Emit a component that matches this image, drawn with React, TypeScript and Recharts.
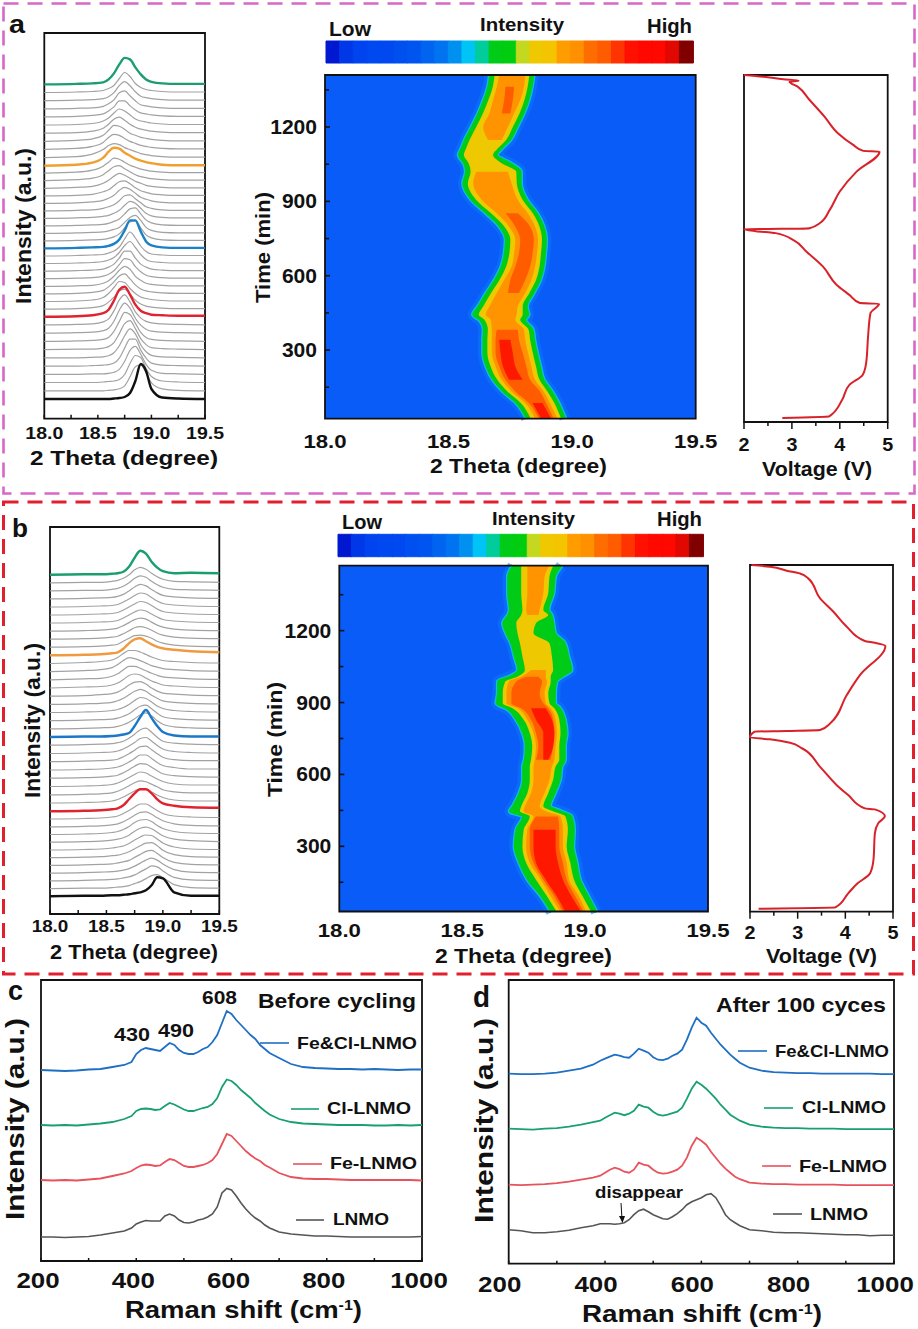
import React from 'react'
import { Area, Bar, BarChart, Cell, CartesianGrid, ComposedChart, Line, LineChart, ReferenceArea, XAxis, YAxis } from 'recharts'

const FONT = '"Liberation Sans", Arial, sans-serif'
const PAGE_W = 918
const PAGE_H = 1329

// --- waterfall panels: peak height over each trace's own baseline
const thetaGrid = [18.0, 18.3, 18.45, 18.55, 18.6, 18.65, 18.7, 18.75, 18.8, 18.85, 18.9, 18.95, 19.0, 19.1, 19.25, 19.5]
const thetaTicks = [18, 18.25, 18.5, 18.75, 19, 19.25, 19.5]
const thetaLabels = [18, 18.5, 19, 19.5]

const baselinesA = [19.7, 27.9, 36.2, 44.4, 52.6, 60.9, 69.1, 77.3, 85.5, 93.8, 102, 109.6, 117.2, 124.8, 132.4, 140, 147.6, 155.2, 162.7, 170.3, 177.8, 185.3, 192.8, 200.4, 207.9, 215.4, 222.9, 230.4, 238, 245.5, 253, 261.1, 269.3, 277.4, 285.5, 293.7, 301.8, 309.9, 318, 326.2, 334.3]
const tracesA = [
  [0, 0, 0, 0, 0, .5, 1, 2, 6, 18, 35, 28, 10, 1.5, .5, 0],
  [0, 0, 0, 0, .5, 1, 2, 5, 14, 24, 26, 18, 8, 2, .5, 0],
  [0, 0, 0, .5, 1, 1.5, 3, 8, 19, 27, 25, 14, 6, 1.5, .5, 0],
  [0, 0, .5, .5, 1, 2, 5, 13, 24, 28, 20, 10, 4, 1, .5, 0],
  [0, 0, .5, 1, 1.5, 3, 8, 18, 27, 27, 16, 8, 3, 1, .5, 0],
  [0, 0, .5, 1, 2, 5, 12, 22, 29, 24, 13, 6, 2.5, 1, .5, 0],
  [0, .5, .5, 1.5, 3, 7, 16, 26, 29, 21, 11, 5, 2, 1, .5, 0],
  [0, .5, 1, 2, 4, 10, 20, 29, 27, 18, 9, 4, 2, 1, .5, 0],
  [0, .5, 1, 2.5, 5, 12, 23, 30, 25, 15, 8, 4, 2, 1, .5, 0],
  [0, .5, 1, 3, 6, 14, 25, 30, 23, 13, 7, 3.5, 2, 1, .5, 0],
  [0, .5, 1.5, 3.5, 7, 16, 27, 30, 22, 12, 6, 3.5, 2, 1.5, 1, 1],
  [0, .5, 1.5, 3.5, 7, 12, 18, 20, 15, 9, 5, 3, 2, 1, .5, .5],
  [0, .5, 1.5, 4, 8, 14, 20, 19, 13, 8, 4.5, 3, 2, 1, .5, .5],
  [0, .5, 1.5, 3.5, 7, 12, 18, 20, 15, 9, 5, 3, 2, 1, .5, .5],
  [0, .5, 1, 3, 5.5, 10, 16, 20, 17, 10, 6, 3, 2, 1, .5, .5],
  [0, .5, 1, 2.5, 4.5, 8, 14, 20, 19, 12, 7, 3.5, 2, 1, .5, .5],
  [0, .5, 1, 2, 4, 7, 13, 20, 20, 13, 7, 4, 2, 1, .5, .5],
  [0, .5, 1, 2, 3.5, 6, 11, 18, 22, 16, 9, 4, 2, 1, .5, .5],
  [0, .5, 1, 1.5, 3, 5, 9, 17, 24, 18, 10, 4.5, 2, 1, .5, .5],
  [0, .5, 1, 1.5, 2.5, 4.5, 9, 18, 28, 28, 17, 7, 3, 1, .5, .5],
  [0, .5, 1, 1.5, 2.5, 4, 7, 13, 19, 20, 13, 6, 3, 1, .5, .5],
  [0, .5, 1, 1.5, 2.5, 4, 6, 11, 16, 18, 13, 6, 3, 1, .5, .5],
  [0, .5, 1, 1.5, 2.5, 4.5, 7, 12, 17, 18, 12, 6, 3, 1, .5, .5],
  [0, .5, 1, 2, 3, 5, 8, 13, 17, 15, 10, 5, 2.5, 1, .5, .5],
  [0, .5, 1, 2.5, 4, 6, 10, 15, 16, 12, 8, 4, 2.5, 1, .5, .5],
  [0, .5, 1.5, 3, 5, 8, 13, 16, 14, 10, 6, 4, 2.5, 1, .5, .5],
  [0, .5, 1.5, 4, 6, 10, 14, 15, 12, 8, 5, 3.5, 2, 1, .5, .5],
  [0, 1, 2, 5, 8, 12, 15, 13, 10, 7, 5, 3, 2, 1, .5, .5],
  [0, 1, 2.5, 6, 10, 14, 15, 12, 9, 6, 4, 3, 2, 1, .5, .5],
  [0, 1, 3, 7, 11, 15, 14, 11, 8, 6, 4, 3, 2, 1, .5, .5],
  [0, 1, 3, 8, 14, 18, 17, 13, 10, 7, 5, 3.5, 2.5, 1, .5, .5],
  [0, 1, 3.5, 8, 12, 14, 13, 10, 8, 6, 4, 3, 2, 1, .5, .5],
  [0, 1, 3, 7, 12, 15, 14, 11, 8, 6, 4, 3, 2, 1, .5, .5],
  [0, 1, 2.5, 6, 11, 16, 15, 12, 8, 6, 4, 3, 2, 1, .5, .5],
  [0, .5, 2, 5, 9, 14, 16, 13, 9, 6, 4, 3, 2, 1, .5, .5],
  [0, .5, 1.5, 4, 7, 12, 16, 14, 10, 6, 4, 3, 2, 1, .5, .5],
  [0, .5, 1.5, 3, 6, 10, 16, 16, 11, 7, 4, 3, 2, 1, .5, .5],
  [0, .5, 1, 2.5, 5, 9, 16, 18, 13, 8, 4, 3, 2, 1, .5, .5],
  [0, .5, 1, 2, 4, 8, 15, 19, 15, 9, 4.5, 3, 2, 1, .5, .5],
  [0, .5, 1, 2, 4, 7, 14, 20, 16, 9, 5, 3, 2, 1, .5, .5],
  [0, .5, 1, 2, 5, 11, 20, 26.5, 25, 17, 10, 5, 2.5, 1, .5, .5],
]
const highlightA = { 0: '#111111', 10: '#e0242f', 19: '#1b80c4', 30: '#f0a030', 40: '#1a9e6e' }

const baselinesB = [17.7, 25.4, 33.1, 40.9, 48.6, 56.3, 64, 71.8, 79.5, 87.2, 95, 102.7, 111, 119.2, 127.5, 135.8, 144, 152.3, 160.5, 168.8, 177, 185.2, 193.3, 201.5, 209.7, 217.9, 226, 234.2, 242.4, 250.5, 258.7, 266.8, 274.8, 282.9, 291, 299, 307, 315.1, 323.2, 331.2, 339.3]
const tracesB = [
  [0, .5, .5, 1, 1, 1.5, 2, 3, 4, 6, 11, 19, 18, 4, .5, .5],
  [0, .5, .5, 1, 1.5, 2, 3, 5, 7, 10, 13, 14, 11, 4, 1, .5],
  [0, .5, 1, 1.5, 2, 3, 4, 6, 9, 12, 15, 14, 10, 3.5, 1, .5],
  [0, .5, 1, 1.5, 2, 3, 4.5, 7, 10, 13, 15, 13, 9, 3.5, 1, .5],
  [0, .5, 1, 1.5, 2.5, 3.5, 5, 8, 11, 14, 15, 12, 8, 3, 1, .5],
  [0, .5, 1, 2, 2.5, 4, 6, 9, 12, 14.5, 15, 12, 7.5, 3, 1, .5],
  [0, .5, 1, 2, 3, 4, 6.5, 10, 13, 15, 14.5, 11, 7, 3, 1, .5],
  [0, .5, 1, 2, 3, 4.5, 7, 11, 14, 15, 13.5, 10, 6.5, 3, 1.5, .5],
  [0, .5, 1, 2, 3, 5, 8, 12, 14.5, 15, 13, 9, 6, 3, 1.5, 1],
  [0, .5, 1, 2, 3, 5, 8, 11.5, 14.5, 15, 12.5, 9, 6, 3, 1.5, 1],
  [0, .5, 1, 2, 3, 5.5, 8.5, 12, 15, 15, 12, 8.5, 5.5, 3, 2, 1.5],
  [0, .5, 1, 2, 3, 6, 12, 18, 22, 22, 18, 12, 8, 5.5, 4, 3.5],
  [0, .5, 1, 2, 3.5, 6, 9, 12, 14, 13.5, 11, 8, 5.5, 3, 2, 2],
  [0, .5, 1, 2, 3.5, 6, 9, 12, 14, 13, 10.5, 8, 5, 3, 2, 2],
  [0, .5, 1, 2, 3.5, 6, 9, 12, 14.5, 13.5, 10.5, 7.5, 5, 2.5, 1.5, 1.5],
  [0, .5, 1, 2, 3, 5.5, 8.5, 12, 14.5, 14, 11, 7.5, 4.5, 2.5, 1.5, 1],
  [0, .5, 1, 2, 3, 5, 8, 11.5, 15, 15, 11.5, 7.5, 4.5, 2.5, 1, 1],
  [0, .5, 1, 1.5, 2.5, 5, 8, 11.5, 15, 15.5, 12, 8, 4.5, 2, 1, 1],
  [0, .5, 1, 1.5, 2.5, 4.5, 7.5, 11, 15, 16, 12.5, 8, 4.5, 2, 1, .5],
  [0, .5, 1, 1.5, 2.5, 4, 7, 11, 15.5, 17, 13, 8, 4, 2, 1, .5],
  [0, .5, .5, 1, 1.5, 2.5, 4, 11, 20, 27, 19, 11, 5, 1.5, .5, .5],
  [0, .5, 1, 1.5, 2.5, 4, 6.5, 10, 14, 16, 13, 8, 4.5, 2, 1, .5],
  [0, .5, 1, 1.5, 2.5, 4.5, 7, 11, 14.5, 15.5, 12, 7.5, 4, 2, 1, .5],
  [0, .5, 1, 2, 3, 5, 8, 12, 15, 14, 10.5, 6.5, 4, 2, 1, .5],
  [0, .5, 1, 2, 3.5, 6, 9.5, 13, 15, 13, 9, 6, 3.5, 2, 1, .5],
  [0, .5, 1.5, 2.5, 4, 7, 11, 14, 14.5, 12, 8, 5, 3, 2, 1, .5],
  [0, 1, 1.5, 3, 5, 8.5, 12.5, 14, 13, 10, 7, 5, 3, 2, 1, .5],
  [0, 1, 1.5, 3.5, 6, 10, 13.5, 13.5, 11.5, 9, 6.5, 4.5, 3, 2, 1, .5],
  [0, 1, 2, 4, 7, 11, 14, 13, 11, 8.5, 6, 4.5, 3, 2, 1, .5],
  [0, 1, 2, 3.5, 6, 10, 13, 13, 11.5, 9, 6.5, 4.5, 3, 2, 1, .5],
  [0, .5, 1, 2, 3, 6.5, 12, 16, 17, 14, 11, 8.5, 7, 5.5, 4, 3],
  [0, .5, 1, 2, 3, 6, 9, 11.5, 12, 11, 9, 6, 4, 2, 1, .5],
  [0, .5, 1, 2, 3, 5.5, 8.5, 11.5, 12.5, 11.5, 9, 6, 4, 2, 1, .5],
  [0, .5, 1, 2, 3, 5.5, 8.5, 11.5, 13, 12, 9, 6, 4, 2, 1, .5],
  [0, .5, 1, 1.5, 2.5, 5, 8, 11, 13, 12, 9, 6, 3.5, 2, 1, .5],
  [0, .5, 1, 1.5, 2.5, 5, 8, 11, 13.5, 12.5, 9.5, 6, 3.5, 2, 1, .5],
  [0, .5, 1, 1.5, 2.5, 5, 8, 11.5, 14, 13, 9.5, 6, 3.5, 2, 1, .5],
  [0, .5, 1, 1.5, 2.5, 4.5, 8, 12, 14.5, 13, 9.5, 6, 3.5, 2, 1, .5],
  [0, .5, .5, 1.5, 2.5, 4.5, 8, 12.5, 15, 13.5, 9.5, 6, 3.5, 1.5, 1, .5],
  [0, .5, .5, 1.5, 2.5, 4.5, 8, 13, 15.5, 13.5, 9.5, 6, 3.5, 1.5, 1, .5],
  [0, .5, .5, 1, 1.5, 3, 8, 17, 24, 21, 13, 7, 3.5, 1.5, 2, 1.5],
]
const highlightB = { 0: '#111111', 11: '#e0242f', 20: '#1b78c8', 30: '#f09a40', 40: '#1a9e6e' }

// --- contour maps: [low, high] 2 theta edge of each colour level at each time
const timeTicks = [150, 300, 450, 600, 750, 900, 1050, 1200, 1350]
const timeLabels = [300, 600, 900, 1200]
const barColors = ['#0018d0', '#0038e8', '#0044f0', '#0048f0', '#0048f0', '#0050f0', '#0054f0', '#0064f0', '#0074f0', '#0090f0', '#00c4f5', '#00cc9c', '#00cc18', '#00cc10', '#c4d820', '#f0c800', '#f4c400', '#ff9c00', '#ff9000', '#ff6c00', '#ff5c00', '#ff3400', '#ff1000', '#ff0800', '#ff0800', '#e00800', '#800000']

const mapTimesA = [24, 86, 133, 180, 234, 288, 342, 382, 422, 442, 476, 530, 583, 637, 691, 745, 798, 852, 906, 973, 1020, 1054, 1087, 1114, 1148, 1200, 1255, 1309, 1363, 1410]
const greenA = [[18.816, 18.971], [18.776, 18.944], [18.722, 18.917], [18.681, 18.884], [18.654, 18.87], [18.641, 18.857], [18.641, 18.846], [18.643, 18.84], [18.627, 18.809], [18.6, 18.823], [18.621, 18.816], [18.654, 18.843], [18.688, 18.87], [18.715, 18.884], [18.728, 18.89], [18.732, 18.894], [18.708, 18.884], [18.654, 18.857], [18.594, 18.816], [18.56, 18.792], [18.571, 18.792], [18.563, 18.749], [18.542, 18.695], [18.553, 18.715], [18.567, 18.749], [18.594, 18.776], [18.621, 18.803], [18.643, 18.823], [18.661, 18.836], [18.668, 18.843]]
const yellowA = [[18.832, 18.955], [18.792, 18.928], [18.738, 18.9], [18.697, 18.868], [18.67, 18.854], [18.657, 18.841], [18.657, 18.83], [18.659, 18.824], [18.645, 18.79], [18.622, 18.8], [18.64, 18.8], [18.672, 18.827], [18.706, 18.854], [18.733, 18.868], [18.746, 18.874], [18.75, 18.878], [18.726, 18.868], [18.672, 18.841], [18.612, 18.8], [18.578, 18.776], [18.589, 18.774], [18.581, 18.715], [18.562, 18.68], [18.571, 18.7], [18.585, 18.733], [18.612, 18.76], [18.639, 18.787], [18.661, 18.807], [18.679, 18.82], [18.686, 18.827]]
const orangeA = [[18.85, 18.94], [18.81, 18.91], [18.755, 18.885], [18.715, 18.85], [18.69, 18.835], [18.675, 18.822], [18.675, 18.81], [18.675, 18.805], [18.67, 18.77], [18.65, 18.775], [18.665, 18.78], [18.695, 18.81], [18.725, 18.835], [18.755, 18.85], [18.765, 18.858], [18.77, 18.862], [18.745, 18.85], [18.695, 18.82], [18.635, 18.78], [18.6, 18.755], [18.612, 18.74], null, null, null, [18.66, 18.715], [18.64, 18.74], [18.665, 18.765], [18.68, 18.79], [18.695, 18.805], [18.705, 18.81]]
const deepA = [[18.865, 18.925], [18.825, 18.895], [18.77, 18.87], [18.73, 18.83], [18.705, 18.815], [18.69, 18.8], [18.69, 18.785], [18.695, 18.78], null, null, null, [18.74, 18.785], [18.75, 18.81], [18.77, 18.83], [18.785, 18.84], [18.79, 18.845], [18.77, 18.83], [18.73, 18.78], null, null, null, null, null, null, null, null, [18.715, 18.75], [18.725, 18.76], [18.73, 18.765], null]
const redA = [[18.875, 18.915], [18.84, 18.88], null, [18.745, 18.8], [18.72, 18.77], [18.71, 18.76], [18.705, 18.75], null, null, null, null, null, null, null, null, null, null, null, null, null, null, null, null, null, null, null, null, null, null, null]

const mapTimesB = [26, 92, 161, 231, 300, 369, 425, 446, 467, 522, 578, 633, 661, 717, 772, 828, 876, 897, 939, 988, 1008, 1036, 1092, 1147, 1189, 1231, 1265, 1286, 1356, 1425, 1471]
const greenB = [[18.863, 19.046], [18.822, 19.012], [18.768, 18.978], [18.734, 18.965], [18.714, 18.951], [18.721, 18.954], [18.748, 18.944], [18.694, 18.9], [18.707, 18.856], [18.734, 18.876], [18.748, 18.897], [18.748, 18.904], [18.755, 18.917], [18.759, 18.917], [18.748, 18.924], [18.721, 18.917], [18.68, 18.897], [18.64, 18.877], [18.646, 18.877], [18.646, 18.883], [18.694, 18.904], [18.728, 18.944], [18.714, 18.931], [18.7, 18.917], [18.68, 18.877], [18.667, 18.87], [18.687, 18.863], [18.694, 18.85], [18.687, 18.87], [18.687, 18.877], [18.707, 18.904]]
const yellowB = [[18.885, 19.025], [18.845, 18.99], [18.8, 18.955], [18.76, 18.94], [18.745, 18.925], [18.75, 18.93], [18.775, 18.92], [18.735, 18.87], [18.74, 18.83], [18.765, 18.85], [18.775, 18.87], [18.775, 18.88], [18.78, 18.895], [18.785, 18.895], [18.775, 18.9], [18.75, 18.895], [18.705, 18.875], [18.665, 18.855], [18.665, 18.85], [18.675, 18.86], [18.725, 18.86], [18.755, 18.87], [18.745, 18.865], [18.735, 18.855], [18.725, 18.79], [18.72, 18.8], [18.74, 18.85], [18.745, 18.83], [18.74, 18.85], [18.74, 18.855], [18.74, 18.87]]
const orangeB = [[18.9, 19.005], [18.86, 18.975], [18.82, 18.935], [18.775, 18.925], [18.76, 18.91], [18.765, 18.91], [18.79, 18.9], [18.75, 18.84], [18.755, 18.815], [18.78, 18.835], [18.79, 18.855], [18.79, 18.865], [18.795, 18.875], [18.8, 18.88], [18.79, 18.885], [18.765, 18.88], [18.725, 18.86], [18.68, 18.84], [18.68, 18.835], [18.69, 18.845], [18.74, 18.84], [18.78, 18.84], null, null, null, null, [18.765, 18.81], [18.76, 18.815], [18.765, 18.83], [18.765, 18.835], [18.765, 18.855]]
const deepB = [[18.91, 18.995], [18.875, 18.96], [18.83, 18.925], [18.79, 18.91], [18.775, 18.895], [18.775, 18.895], [18.8, 18.89], null, null, null, null, null, [18.8, 18.86], [18.81, 18.87], [18.8, 18.875], [18.78, 18.87], [18.74, 18.85], [18.7, 18.83], [18.7, 18.815], [18.72, 18.825], [18.76, 18.81], null, null, null, null, null, null, null, null, null, null]
const redB = [[18.92, 18.985], [18.885, 18.945], [18.84, 18.91], [18.8, 18.89], [18.79, 18.88], [18.79, 18.88], null, null, null, null, null, null, [18.83, 18.85], [18.83, 18.87], [18.83, 18.875], [18.8, 18.865], [18.78, 18.84], null, null, null, null, null, null, null, null, null, null, null, null, null, null]

// --- voltage profiles
const voltTicks = [2, 2.5, 3, 3.5, 4, 4.5, 5]
const voltLabels = [2, 3, 4, 5]
const voltTimesA = [16, 23, 90, 150, 191, 238, 345, 439, 477, 480, 513, 554, 627, 688, 732, 762, 770, 778, 779, 780, 782, 802, 856, 930, 1010, 1091, 1094, 1118, 1165, 1232, 1299, 1353, 1373, 1377, 1383, 1393, 1400]
const voltsA = [2.8, 3.78, 4.05, 4.2, 4.48, 4.55, 4.59, 4.64, 4.82, 4.42, 4.2, 3.93, 3.65, 3.3, 3.05, 2.66, 2.25, 2.0, 2.5, 3.15, 3.37, 3.58, 3.79, 4.0, 4.35, 4.83, 4.49, 4.28, 3.96, 3.68, 3.37, 3.12, 2.95, 3.14, 2.82, 2.4, 2.0]
const voltTimesB = [12, 17, 74, 112, 155, 209, 316, 357, 386, 413, 417, 471, 511, 585, 660, 682, 696, 704, 727, 730, 734, 760, 875, 956, 1073, 1086, 1093, 1151, 1211, 1265, 1346, 1366, 1377, 1393, 1400]
const voltsB = [2.18, 3.79, 4.06, 4.24, 4.52, 4.59, 4.62, 4.69, 4.83, 4.62, 4.41, 4.06, 3.82, 3.47, 3.09, 2.84, 2.42, 2.0, 2.1, 2.77, 3.47, 3.68, 4.03, 4.31, 4.84, 4.62, 4.41, 4.03, 3.75, 3.47, 3.22, 3.05, 2.77, 2.42, 2.03]

// --- Raman spectra
const ramanShift = [200, 225, 250, 275, 300, 325, 350, 375, 390, 400, 410, 420, 430, 440, 450, 460, 470, 480, 490, 500, 510, 520, 530, 540, 550, 560, 570, 580, 590, 600, 610, 620, 630, 640, 650, 660, 670, 680, 700, 725, 750, 775, 800, 825, 850, 875, 900, 925, 950, 975, 1000]
const ramanTicks = [200, 300, 400, 500, 600, 700, 800, 900, 1000]
const ramanLabels = [200, 400, 600, 800, 1000]
const beforeFeCl = [191, 190.5, 190, 190.5, 191.5, 192, 194, 196, 199, 207, 211, 213, 212, 211, 210, 214, 218, 216, 211, 208, 207, 207, 209, 212, 214, 219, 226, 238, 250, 247, 241, 236, 231, 226, 222, 216, 212, 208, 203, 197, 194, 193, 192.5, 192, 192, 191.5, 192, 191.5, 191, 191.5, 191.5]
const beforeCl = [136, 135.5, 136, 135.5, 136.5, 137.5, 139, 142, 145, 150, 152, 152.5, 152, 151, 151.5, 155, 158, 156.5, 154, 151.5, 150, 150, 151.5, 153, 154, 157, 163, 174, 181.5, 180, 176, 171, 167, 163, 158, 154, 150, 146.5, 142, 139, 137.5, 137, 136.5, 136, 136, 136, 135.5, 135.5, 136, 135.5, 136]
const beforeFe = [81, 80.5, 81, 80.5, 81.5, 82.5, 85, 87.5, 90, 93, 95.5, 96.5, 96, 95, 95.5, 99, 102, 101, 98, 95, 94, 94, 95, 96, 98, 101, 107, 117, 127, 125, 120, 115, 110, 106, 102.5, 100, 96, 93.5, 88, 84, 82.5, 82, 82, 81.5, 81, 81, 81, 81, 81, 81, 80.5]
const beforeBare = [24, 24, 23.5, 24, 24.5, 26, 28, 30, 33, 37, 39, 40.5, 40, 40, 40, 45, 47, 45, 41, 38.5, 38, 39, 41, 42, 44, 47, 54, 68, 72.5, 71, 65, 58, 52, 47, 43, 40, 36, 33, 29, 27, 26, 25, 25, 24.5, 24, 24, 24, 24, 24, 24, 24.5]
const afterFeCl = [190, 189.5, 189.5, 190, 191, 193, 195, 199, 203, 205, 207, 209, 208, 206.5, 206, 210, 215, 213, 211, 206.5, 204, 203.5, 205, 208, 210, 214, 224, 236, 246, 241, 238, 231, 225, 219, 214, 209, 205, 201, 196, 193, 191.5, 191, 190.5, 190.5, 190, 190, 190, 190, 190, 189.5, 189.5]
const afterCl = [135, 134.5, 134, 135, 135.5, 137, 139, 141.5, 143, 146, 148.5, 151, 150, 148.5, 150, 153, 159, 157, 156, 152, 149, 148, 149, 150.5, 152, 156, 165, 175, 182, 179, 175, 170, 165, 159, 154, 149, 146, 143, 139, 137, 136, 135.5, 135.5, 135, 135, 135, 134.5, 134.5, 134.5, 134.5, 134.5]
const afterFe = [79, 78.5, 79, 79.5, 80.5, 82, 84, 86, 88, 91, 94, 96, 94.5, 92, 91, 94, 101, 99, 98, 94, 91, 90, 90.5, 92, 94, 98, 106, 118, 126, 123, 119, 112, 106, 100, 95, 91, 87, 84.5, 81, 80, 79.5, 79.5, 79, 79, 79, 79, 78.5, 78.5, 78.5, 78.5, 78.5]
const afterBare = [34, 33, 31, 31, 32, 33.5, 36, 38, 40, 40, 40, 39.5, 40, 41, 44, 49, 53, 54.5, 52, 49, 47, 45, 44.5, 47, 50, 54, 59, 62, 64, 66, 69, 70, 66, 58, 49, 44, 41, 38, 34, 33, 31.5, 31, 31, 30.5, 30, 29.5, 29, 29, 28, 28.5, 28.5]

const ramanBlue = '#1f6fc4'
const ramanGreen = '#18a070'
const ramanRed = '#e8525c'
const ramanGray = '#555555'

// axes keep 1px of height/width (0 makes them skip their ticks), so margins give that back
const plotMargin = (left: number, top: number, right: number, bottom: number, yAxisShown = false) => ({
  left: yAxisShown ? left - 1 : left,
  top,
  right: PAGE_W - right,
  bottom: PAGE_H - bottom - 1,
})

const xTick = (labels: number[], fmt: (v: number) => string, o: any) => (p: any) => {
  const big = labels.includes(p.payload.value)
  const len = big ? o.major : o.minor
  return (
    <g>
      {len !== 0 && <line x1={p.x} x2={p.x} y1={p.y} y2={p.y + len} stroke="#111" strokeWidth={1.5} />}
      {big && (
        <text
          transform={`translate(${p.x + (o.dx || 0)} ${p.y + o.dy}) scale(${o.sx} 1)`}
          textAnchor="middle"
          fontFamily={FONT}
          fontWeight="bold"
          fontSize={o.size}
          fill="#111"
        >
          {fmt(p.payload.value)}
        </text>
      )}
    </g>
  )
}

const timeTick = (o: any) => (p: any) => {
  const big = timeLabels.includes(p.payload.value)
  return (
    <g>
      <line x1={p.x} x2={p.x + (big ? 5 : 4)} y1={p.y} y2={p.y} stroke="#111" strokeWidth={1.6} />
      {big && (
        <text
          transform={`translate(${p.x - o.gap} ${p.y + 7}) scale(1.08 1)`}
          textAnchor="end"
          fontFamily={FONT}
          fontWeight="bold"
          fontSize={19.5}
          fill="#111"
        >
          {p.payload.value}
        </text>
      )}
    </g>
  )
}

const Layer = ({ children }: { children: React.ReactNode }) => (
  <div style={{ position: 'absolute', left: 0, top: 0 }}>{children}</div>
)

const Waterfall = ({ box, traces, baselines, highlight, tickStyle }: any) => {
  const rows = thetaGrid.map((x, j) => {
    const row: any = { x }
    traces.forEach((t: number[], i: number) => {
      row[`t${i}`] = baselines[i] + t[j]
    })
    return row
  })
  const plain = traces.map((_: any, i: number) => i).filter((i: number) => !highlight[i])
  const bold = traces.map((_: any, i: number) => i).filter((i: number) => highlight[i])
  return (
    <Layer>
      <LineChart width={PAGE_W} height={PAGE_H} data={rows} margin={plotMargin(box[0], box[1], box[2], box[3])}>
        <XAxis
          dataKey="x"
          type="number"
          domain={[18, 19.5]}
          ticks={thetaTicks}
          interval={0}
          height={1}
          axisLine={false}
          tickLine={false}
          tickSize={0}
          tickMargin={0}
          tick={xTick(thetaLabels, (v) => v.toFixed(1), tickStyle)}
        />
        <YAxis type="number" domain={[0, box[3] - box[1]]} hide />
        {plain.map((i: number) => (
          <Line key={i} type="monotone" dataKey={`t${i}`} stroke="#a2a2a2" strokeWidth={1.2} dot={false} isAnimationActive={false} />
        ))}
        {bold.map((i: number) => (
          <Line key={i} type="monotone" dataKey={`t${i}`} stroke={highlight[i]} strokeWidth={2.4} dot={false} isAnimationActive={false} />
        ))}
        <ReferenceArea x1={18} x2={19.5} y1={0} y2={box[3] - box[1]} fill="none" stroke="#111" strokeWidth={1.8} ifOverflow="visible" />
      </LineChart>
    </Layer>
  )
}

const ContourMap = ({ box, times, green, yellow, orange, deep, red, domain, tickDy, gap }: any) => {
  const rows = times.map((t: number, i: number) => ({
    t,
    green: green[i],
    yellow: yellow[i],
    orange: orange[i],
    deep: deep[i],
    red: red[i],
  }))
  return (
    <Layer>
      <ComposedChart layout="vertical" width={PAGE_W} height={PAGE_H} data={rows} margin={plotMargin(box[0], box[1], box[2], box[3], true)}>
        <CartesianGrid horizontal={false} vertical={false} fill="#0a5cf8" fillOpacity={1} stroke="none" />
        <XAxis
          type="number"
          domain={[18, 19.5]}
          ticks={thetaLabels}
          interval={0}
          height={1}
          axisLine={false}
          tickLine={false}
          tickSize={0}
          tickMargin={0}
          tick={xTick(thetaLabels, (v) => v.toFixed(1), { major: 0, minor: 0, dy: tickDy, sx: 1.2, size: 18.5 })}
        />
        <YAxis
          dataKey="t"
          type="number"
          reversed
          domain={domain}
          ticks={timeTicks}
          interval={0}
          width={1}
          axisLine={false}
          tickLine={false}
          tickSize={0}
          tickMargin={0}
          tick={timeTick({ gap })}
        />
        <Area dataKey="green" type="monotone" fill="#0a78f6" stroke="#0a78f6" strokeOpacity={0.55} strokeWidth={11} isAnimationActive={false} />
        <Area dataKey="green" type="monotone" fill="#12bce8" fillOpacity={1} stroke="#12bce8" strokeWidth={4.5} isAnimationActive={false} />
        <Area dataKey="green" type="monotone" fill="#00cc18" fillOpacity={1} stroke="#00cc18" strokeWidth={2} isAnimationActive={false} />
        <Area dataKey="yellow" type="monotone" fill="#eec800" fillOpacity={1} stroke="none" isAnimationActive={false} />
        <Area dataKey="orange" type="monotone" fill="#ff9400" fillOpacity={1} stroke="none" isAnimationActive={false} />
        <Area dataKey="deep" type="monotone" fill="#ff5c00" fillOpacity={1} stroke="none" isAnimationActive={false} />
        <Area dataKey="red" type="monotone" fill="#ff1800" fillOpacity={1} stroke="none" isAnimationActive={false} />
        <ReferenceArea x1={18} x2={19.5} y1={domain[0]} y2={domain[1]} fill="none" stroke="#111" strokeWidth={1.8} ifOverflow="visible" />
      </ComposedChart>
    </Layer>
  )
}

const ColorBar = ({ box }: any) => (
  <Layer>
    <BarChart
      width={PAGE_W}
      height={PAGE_H}
      data={barColors.map((c, i) => ({ i, v: 1 }))}
      margin={{ left: box[0], top: box[1], right: PAGE_W - box[2], bottom: PAGE_H - box[3] }}
      barCategoryGap={0}
    >
      <XAxis dataKey="i" hide />
      <YAxis type="number" domain={[0, 1]} hide />
      <Bar dataKey="v" isAnimationActive={false}>
        {barColors.map((c, i) => (
          <Cell key={i} fill={c} stroke={c} />
        ))}
      </Bar>
    </BarChart>
  </Layer>
)

const VoltagePanel = ({ box, times, volts, tickDy }: any) => (
  <Layer>
    <ComposedChart
      layout="vertical"
      width={PAGE_W}
      height={PAGE_H}
      data={times.map((t: number, i: number) => ({ t, v: volts[i] }))}
      margin={plotMargin(box[0], box[1], box[2], box[3])}
    >
      <XAxis
        type="number"
        domain={[2, 5]}
        ticks={voltTicks}
        interval={0}
        height={1}
        axisLine={false}
        tickLine={false}
        tickSize={0}
        tickMargin={0}
        tick={xTick(voltLabels, (v) => String(v), { major: 7, minor: 4, dy: tickDy, sx: 1.07, size: 18.5 })}
      />
      <YAxis dataKey="t" type="number" reversed domain={[0, 1400]} hide />
      <Line dataKey="v" type="monotone" stroke="#d8222a" strokeWidth={2} dot={false} isAnimationActive={false} />
      <ReferenceArea x1={2} x2={5} y1={0} y2={1400} fill="none" stroke="#111" strokeWidth={1.8} ifOverflow="visible" />
    </ComposedChart>
  </Layer>
)

const RamanPanel = ({ box, series, tickDy, labelShift }: any) => {
  const rows = ramanShift.map((x, i) => ({ x, blue: series[0][i], green: series[1][i], red: series[2][i], gray: series[3][i] }))
  return (
    <Layer>
      <LineChart width={PAGE_W} height={PAGE_H} data={rows} margin={plotMargin(box[0], box[1], box[2], box[3])}>
        <XAxis
          dataKey="x"
          type="number"
          domain={[200, 1000]}
          ticks={ramanTicks}
          interval={0}
          height={1}
          axisLine={false}
          tickLine={false}
          tickSize={0}
          tickMargin={0}
          tick={xTick(ramanLabels, (v) => String(v), { major: -3, minor: -3, dy: tickDy, dx: labelShift, sx: 1.15, size: 22.5 })}
        />
        <YAxis type="number" domain={[0, box[3] - box[1]]} hide />
        <Line dataKey="blue" type="linear" stroke={ramanBlue} strokeWidth={1.8} dot={false} isAnimationActive={false} />
        <Line dataKey="green" type="linear" stroke={ramanGreen} strokeWidth={1.8} dot={false} isAnimationActive={false} />
        <Line dataKey="red" type="linear" stroke={ramanRed} strokeWidth={1.8} dot={false} isAnimationActive={false} />
        <Line dataKey="gray" type="linear" stroke={ramanGray} strokeWidth={1.6} dot={false} isAnimationActive={false} />
        <ReferenceArea x1={200} x2={1000} y1={0} y2={box[3] - box[1]} fill="none" stroke="#111" strokeWidth={1.8} ifOverflow="visible" />
      </LineChart>
    </Layer>
  )
}

const T = ({ x, y, w, size = 20, rot = false, weight = 'bold', children }: any) => (
  <text
    x={x}
    y={y}
    textLength={w}
    lengthAdjust="spacingAndGlyphs"
    transform={rot ? `rotate(-90 ${x} ${y})` : undefined}
    fontFamily={FONT}
    fontWeight={weight}
    fontSize={size}
    fill="#111"
  >
    {children}
  </text>
)

const Key = ({ x1, x2, y, color }: any) => <line x1={x1} x2={x2} y1={y} y2={y} stroke={color} strokeWidth={1.6} />

const Annotations = () => (
  <svg width={PAGE_W} height={PAGE_H} style={{ position: 'absolute', left: 0, top: 0 }}>
    <rect x={3.5} y={3.5} width={911} height={490} fill="none" stroke="#d868c8" strokeWidth={2.6} strokeDasharray="15 9" />
    <rect x={3.5} y={502} width={910} height={472} fill="none" stroke="#e0202c" strokeWidth={3} strokeDasharray="15 9" />

    <T x={9} y={33} w={16} size={26}>a</T>
    <T x={329} y={36} w={42}>Low</T>
    <T x={480} y={31} w={84} size={19}>Intensity</T>
    <T x={647} y={33} w={45}>High</T>
    <T x={31} y={304} w={156} size={22} rot>Intensity (a.u.)</T>
    <T x={270} y={303} w={111} size={21} rot>Time (min)</T>
    <T x={30} y={465} w={188} size={21}>2 Theta (degree)</T>
    <T x={430} y={473} w={177} size={21}>2 Theta (degree)</T>
    <T x={762} y={476} w={110} size={21}>Voltage (V)</T>

    <T x={12} y={537} w={16} size={26}>b</T>
    <T x={342} y={529} w={40}>Low</T>
    <T x={492} y={525} w={83} size={19}>Intensity</T>
    <T x={657} y={526} w={45}>High</T>
    <T x={40} y={798} w={155} size={22} rot>Intensity (a.u.)</T>
    <T x={282} y={797} w={115} size={21} rot>Time (min)</T>
    <T x={50} y={959} w={168} size={21}>2 Theta (degree)</T>
    <T x={435} y={963} w={177} size={21}>2 Theta (degree)</T>
    <T x={766} y={963} w={111} size={21}>Voltage (V)</T>

    <T x={8} y={1000} w={15} size={28}>c</T>
    <T x={24} y={1220} w={202} size={26} rot>Intensity (a.u.)</T>
    <T x={125} y={1318} w={237} size={24}>
      Raman shift (cm
      <tspan dy={-8} fontSize={14}>-1</tspan>
      <tspan dy={8}>)</tspan>
    </T>
    <T x={258} y={1008} w={158} size={21}>Before cycling</T>
    <T x={202} y={1004} w={35} size={19}>608</T>
    <T x={114} y={1041} w={36} size={19}>430</T>
    <T x={158} y={1037} w={36} size={19}>490</T>
    <Key x1={260} x2={289} y={1043} color={ramanBlue} />
    <T x={297} y={1049} w={120} size={17}>Fe&amp;Cl-LNMO</T>
    <Key x1={291} x2={319} y={1109} color={ramanGreen} />
    <T x={327} y={1114} w={84} size={17}>Cl-LNMO</T>
    <Key x1={293} x2={322} y={1164} color={ramanRed} />
    <T x={330} y={1169} w={87} size={17}>Fe-LNMO</T>
    <Key x1={296} x2={324} y={1220} color={ramanGray} />
    <T x={333} y={1225} w={56} size={17}>LNMO</T>

    <T x={473} y={1007} w={17} size={30}>d</T>
    <T x={493} y={1223} w={205} size={26} rot>Intensity (a.u.)</T>
    <T x={582} y={1322} w={240} size={24}>
      Raman shift (cm
      <tspan dy={-8} fontSize={14}>-1</tspan>
      <tspan dy={8}>)</tspan>
    </T>
    <T x={716} y={1012} w={170} size={21}>After 100 cyces</T>
    <Key x1={738} x2={767} y={1051} color={ramanBlue} />
    <T x={775} y={1057} w={114} size={17}>Fe&amp;Cl-LNMO</T>
    <Key x1={764} x2={793} y={1108} color={ramanGreen} />
    <T x={802} y={1113} w={84} size={17}>Cl-LNMO</T>
    <Key x1={762} x2={791} y={1166} color={ramanRed} />
    <T x={799} y={1172} w={88} size={17}>Fe-LNMO</T>
    <Key x1={773} x2={802} y={1214} color={ramanGray} />
    <T x={810} y={1220} w={58} size={17}>LNMO</T>
    <T x={595} y={1198} w={88} size={16}>disappear</T>
    <line x1={621} y1={1203} x2={622} y2={1219} stroke="#111" strokeWidth={1} />
    <path d="M619 1216 L622.5 1223 L625 1216 Z" fill="#111" />
  </svg>
)

export default function App() {
  return (
    <div style={{ position: 'absolute', left: 0, top: 0, width: PAGE_W, height: PAGE_H, overflow: 'hidden', background: '#fff' }}>
      <Waterfall box={[44.3, 33, 205, 418.7]} traces={tracesA} baselines={baselinesA} highlight={highlightA} tickStyle={{ major: -4, minor: -4, dy: 20.5, sx: 1.22, size: 16 }} />
      <ColorBar box={[326, 41, 693, 63]} />
      <ContourMap box={[325, 75, 695.7, 418.7]} times={mapTimesA} green={greenA} yellow={yellowA} orange={orangeA} deep={deepA} red={redA} domain={[23, 1410]} tickDy={29.5} gap={8} />
      <VoltagePanel box={[744, 75, 887.7, 422]} times={voltTimesA} volts={voltsA} tickDy={29} />

      <Waterfall box={[50, 527, 219.3, 914]} traces={tracesB} baselines={baselinesB} highlight={highlightB} tickStyle={{ major: -4, minor: -4, dy: 18, sx: 1.18, size: 16 }} />
      <ColorBar box={[338, 534.3, 703, 556.7]} />
      <ContourMap box={[339.3, 565.7, 708, 912]} times={mapTimesB} green={greenB} yellow={yellowB} orange={orangeB} deep={deepB} red={redB} domain={[28, 1471]} tickDy={25} gap={8} />
      <VoltagePanel box={[750, 565, 893, 911.7]} times={voltTimesB} volts={voltsB} tickDy={27} />

      <RamanPanel box={[41, 980, 422, 1261]} series={[beforeFeCl, beforeCl, beforeFe, beforeBare]} tickDy={27} labelShift={-3} />
      <RamanPanel box={[508.7, 980, 894, 1263.7]} series={[afterFeCl, afterCl, afterFe, afterBare]} tickDy={28} labelShift={-9} />

      <Annotations />
    </div>
  )
}
